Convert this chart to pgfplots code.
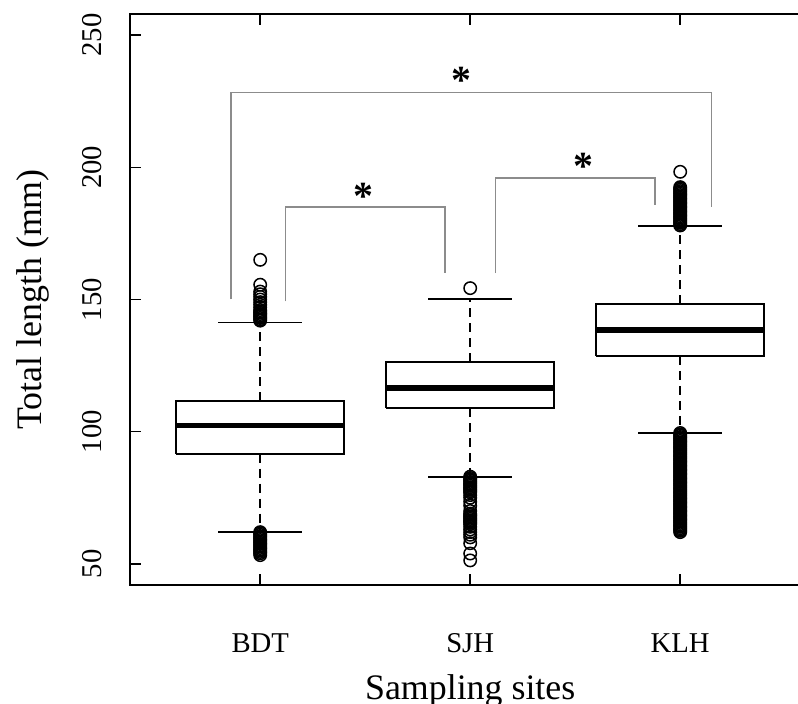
\documentclass[border=0pt]{standalone}
\usepackage{fontspec}
\setmainfont{Liberation Serif}
\usepackage{pgfplots}
\pgfplotsset{compat=1.18}
\definecolor{brk}{RGB}{140,140,140}

\begin{document}
\begin{tikzpicture}
\begin{axis}[
    name=ax,
    scale only axis,
    width=680.4bp, height=571bp,
    xmin=0.38, xmax=3.62, ymin=42, ymax=258,
    xtick={1,2,3}, xticklabels={BDT,SJH,KLH},
    ytick={50,100,150,200,250},
    tick align=inside, major tick length=11bp,
    tick style={black, line width=1.6bp},
    axis line style={black, line width=1.8bp},
    /pgf/number format/assume math mode=true,
    tick label style={font=\fontsize{28.8}{34}\selectfont},
    xticklabel style={anchor=base, yshift=-67bp, inner sep=0pt},
    yticklabel style={xshift=-28bp, rotate=90, anchor=base, inner sep=0pt},
    every axis x label/.style={at={(axis description cs:0.5,0)}, yshift=-114bp, anchor=base, inner sep=0pt},
    every axis y label/.style={at={(axis description cs:0,0.5)}, xshift=-88bp, rotate=90, anchor=base, inner sep=0pt},
    label style={font=\fontsize{36}{42}\selectfont},
    xlabel={Sampling sites},
    ylabel={Total length (mm)},
    clip=false,
    every axis plot/.append style={line join=miter, line cap=butt},
]
% significance brackets
\addplot[brk, line width=1.5bp] coordinates {(0.86,150) (0.86,228.3) (3.15,228.3) (3.15,185)};
\addplot[brk, line width=1.5bp] coordinates {(1.12,149.3) (1.12,185) (1.88,185) (1.88,160)};
\addplot[brk, line width=1.5bp] coordinates {(2.12,160) (2.12,196) (2.88,196) (2.88,185.8)};

% ---- BDT ----
\addplot[black, line width=1.8bp, dash pattern=on 9bp off 6bp] coordinates {(1,111.7) (1,141.3)};
\addplot[black, line width=1.8bp, dash pattern=on 9bp off 6bp] coordinates {(1,91.7) (1,62.2)};
\addplot[black, line width=1.8bp] coordinates {(0.8,141.3) (1.2,141.3)};
\addplot[black, line width=1.8bp] coordinates {(0.8,62.2) (1.2,62.2)};
\addplot[black, line width=2bp, fill=white] coordinates {(0.6,91.7) (1.4,91.7) (1.4,111.7) (0.6,111.7) (0.6,91.7)};
\addplot[black, line width=5.5bp] coordinates {(0.6,102.3) (1.4,102.3)};
\addplot[only marks, mark=o, mark size=6.2bp, black, line width=1.5bp] coordinates {
    (1,142) (1,142.5) (1,143) (1,143.5) (1,144) (1,144.5) (1,145) (1,145.5)
    (1,146) (1,147) (1,148) (1,149) (1,150) (1,151) (1,152) (1,153)
    (1,155.6) (1,165)
    (1,62) (1,61.5) (1,61) (1,60.5) (1,60) (1,59.5) (1,59) (1,58.5) (1,58)
    (1,57.5) (1,57) (1,56.5) (1,56) (1,55.5) (1,55) (1,54.5) (1,54) (1,53.3)
};

% ---- SJH ----
\addplot[black, line width=1.8bp, dash pattern=on 9bp off 6bp] coordinates {(2,126.5) (2,150.2)};
\addplot[black, line width=1.8bp, dash pattern=on 9bp off 6bp] coordinates {(2,108.8) (2,83)};
\addplot[black, line width=1.8bp] coordinates {(1.8,150.2) (2.2,150.2)};
\addplot[black, line width=1.8bp] coordinates {(1.8,83) (2.2,83)};
\addplot[black, line width=2bp, fill=white] coordinates {(1.6,108.8) (2.4,108.8) (2.4,126.5) (1.6,126.5) (1.6,108.8)};
\addplot[black, line width=5.5bp] coordinates {(1.6,116.5) (2.4,116.5)};
\addplot[only marks, mark=o, mark size=6.2bp, black, line width=1.5bp] coordinates {
    (2,154.3)
    (2,83) (2,82.5) (2,82) (2,81.5) (2,81) (2,80.5) (2,80) (2,79.5) (2,79)
    (2,78.5) (2,78) (2,77.5) (2,77) (2,76) (2,75) (2,73.5) (2,72)
    (2,70) (2,69) (2,68.5) (2,68) (2,67.5) (2,67) (2,66.5) (2,66) (2,65.5)
    (2,65) (2,64) (2,63) (2,62) (2,61) (2,60) (2,57.8) (2,53.9) (2,51.3)
};

% ---- KLH ----
\addplot[black, line width=1.8bp, dash pattern=on 9bp off 6bp] coordinates {(3,148.3) (3,177.8)};
\addplot[black, line width=1.8bp, dash pattern=on 9bp off 6bp] coordinates {(3,128.7) (3,99.6)};
\addplot[black, line width=1.8bp] coordinates {(2.8,177.8) (3.2,177.8)};
\addplot[black, line width=1.8bp] coordinates {(2.8,99.6) (3.2,99.6)};
\addplot[black, line width=2bp, fill=white] coordinates {(2.6,128.7) (3.4,128.7) (3.4,148.3) (2.6,148.3) (2.6,128.7)};
\addplot[black, line width=5.5bp] coordinates {(2.6,138.4) (3.4,138.4)};
\addplot[only marks, mark=o, mark size=6.2bp, black, line width=1.5bp] coordinates {
    (3,178) (3,178.5) (3,179) (3,179.5) (3,180) (3,180.5) (3,181) (3,181.5)
    (3,182) (3,182.5) (3,183) (3,183.5) (3,184) (3,184.5) (3,185) (3,185.5)
    (3,186) (3,186.5) (3,187) (3,187.5) (3,188) (3,188.5) (3,189) (3,189.5)
    (3,190) (3,190.5) (3,191) (3,191.5) (3,192) (3,192.5) (3,198.3)
    (3,99.5) (3,99) (3,98.5) (3,98) (3,97.5) (3,97) (3,96.5) (3,96) (3,95.5)
    (3,95) (3,94.5) (3,94) (3,93.5) (3,93) (3,92.5) (3,92) (3,91.5) (3,91)
    (3,90.5) (3,90) (3,89.5) (3,89) (3,88.5) (3,88) (3,87.5) (3,87) (3,86.5)
    (3,86) (3,85.5) (3,85) (3,84.5) (3,84) (3,83.5) (3,83) (3,82.5) (3,82)
    (3,81.5) (3,81) (3,80.5) (3,80) (3,79.5) (3,79) (3,78.5) (3,78) (3,77.5)
    (3,77) (3,76.5) (3,76) (3,75.5) (3,75) (3,74.5) (3,74) (3,73.5) (3,73)
    (3,72.5) (3,72) (3,71.5) (3,71) (3,70.5) (3,70) (3,69.5) (3,69) (3,68.5)
    (3,68) (3,67.5) (3,67) (3,66.5) (3,66) (3,65.5) (3,65) (3,64.5) (3,64)
    (3,63.5) (3,63) (3,62.5) (3,62)
};

% asterisks
\node[font=\fontsize{40}{44}\selectfont\bfseries, anchor=base, inner sep=0pt, yshift=-19bp] at (axis cs:1.96,235.3) {*};
\node[font=\fontsize{40}{44}\selectfont\bfseries, anchor=base, inner sep=0pt, yshift=-19bp] at (axis cs:1.49,191.4) {*};
\node[font=\fontsize{40}{44}\selectfont\bfseries, anchor=base, inner sep=0pt, yshift=-19bp] at (axis cs:2.54,202.7) {*};
\end{axis}
\pgfresetboundingbox
\path ([shift={(-130bp,-119bp)}]ax.south west) rectangle ([shift={(668bp,585bp)}]ax.south west);
\end{tikzpicture}
\end{document}
